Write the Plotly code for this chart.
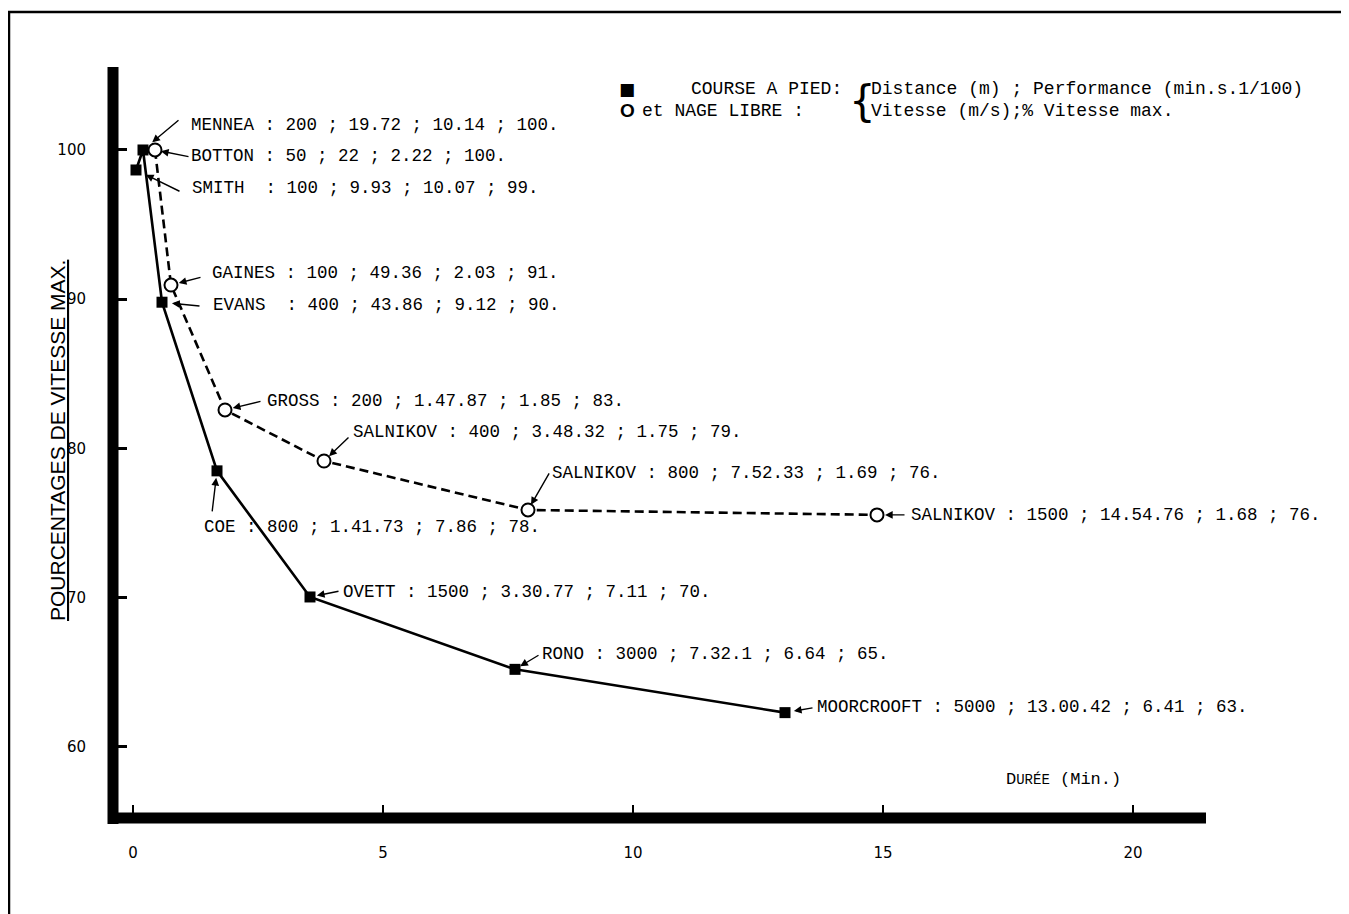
import plotly.graph_objects as go

# ---------------- data ----------------
# Course a pied (running)
run_names = ["SMITH ", "MENNEA", "EVANS ", "COE", "OVETT", "RONO", "MOORCROOFT"]
run_dist = ["100", "200", "400", "800", "1500", "3000", "5000"]
run_perf = ["9.93", "19.72", "43.86", "1.41.73", "3.30.77", "7.32.1", "13.00.42"]
run_speed = ["10.07", "10.14", "9.12", "7.86", "7.11", "6.64", "6.41"]
run_pct_label = ["99", "100", "90", "78", "70", "65", "63"]
run_time = [0.06, 0.20, 0.58, 1.68, 3.54, 7.64, 13.04]      # minutes (as plotted)
run_pct = [98.66, 100.0, 89.8, 78.5, 70.05, 65.2, 62.3]      # % vitesse max (as plotted)

# Nage libre (swimming)
swim_names = ["BOTTON", "GAINES", "GROSS", "SALNIKOV", "SALNIKOV", "SALNIKOV"]
swim_dist = ["50", "100", "200", "400", "800", "1500"]
swim_perf = ["22", "49.36", "1.47.87", "3.48.32", "7.52.33", "14.54.76"]
swim_speed = ["2.22", "2.03", "1.85", "1.75", "1.69", "1.68"]
swim_pct_label = ["100", "91", "83", "79", "76", "76"]
swim_time = [0.44, 0.76, 1.84, 3.82, 7.90, 14.88]
swim_pct = [100.0, 90.95, 82.58, 79.16, 75.88, 75.55]

x_ticks = [0, 5, 10, 15, 20]
y_ticks = [60, 70, 80, 90, 100]

# ---------------- styling / layout ----------------
OFF = 8                      # page body margin
W, H = 1349 - OFF, 914 - OFF
L, R, T, B = 113, 1206, 67, 818   # plot area in window pixels
MONO = "Liberation Mono, Courier New, monospace"
SANS = "Liberation Sans, Arial, sans-serif"

# label placement (pixel offsets from the point): text (dx, dy), arrow tail (ax, ay), standoff
run_style = [
    dict(tx=55, ty=18, ax=45, ay=22, so=11),
    dict(tx=47, ty=-25, ax=37, ay=-31, so=12),
    dict(tx=50, ty=3, ax=39, ay=4, so=10),
    dict(tx=-14, ty=56, ax=-5, ay=42, so=7),
    dict(tx=32, ty=-5, ax=30, ay=-6, so=7),
    dict(tx=26, ty=-15, ax=25, ay=-15, so=6),
    dict(tx=31, ty=-6, ax=29, ay=-5, so=9),
]
swim_style = [
    dict(tx=35, ty=6, ax=35, ay=7, so=6),
    dict(tx=40, ty=-12, ax=31, ay=-8, so=8),
    dict(tx=41, ty=-9, ax=37, ay=-9, so=8),
    dict(tx=28, ty=-29, ax=26, ay=-25, so=7),
    dict(tx=23, ty=-37, ax=22, ay=-38, so=6),
    dict(tx=33, ty=0, ax=29, ay=0, so=8),
]


def px_x(p):
    return (p - L) / (R - L)


def px_y(p):
    return (B - p) / (B - T)


fig = go.Figure()

fig.add_trace(go.Scatter(
    x=run_time, y=run_pct, mode="lines+markers", name="COURSE A PIED",
    line=dict(color="black", width=2.6),
    marker=dict(symbol="square", size=11, color="black"),
    showlegend=False, hoverinfo="skip"))

fig.add_trace(go.Scatter(
    x=swim_time, y=swim_pct, mode="lines+markers", name="NAGE LIBRE",
    line=dict(color="black", width=2.6, dash="9px,5px"),
    marker=dict(symbol="circle", size=13, color="white", line=dict(color="black", width=2)),
    showlegend=False, hoverinfo="skip"))

annotations = []


def add_labels(times, pcts, names, dists, perfs, speeds, pctl, styles):
    for i in range(len(times)):
        s = styles[i]
        label = f"{names[i]} : {dists[i]} ; {perfs[i]} ; {speeds[i]} ; {pctl[i]}."
        annotations.append(dict(
            x=times[i], y=pcts[i], xref="x", yref="y", text=label.replace(" ", "\u00a0"),
            showarrow=False, xanchor="left", yanchor="middle",
            xshift=s["tx"], yshift=-s["ty"], borderpad=0,
            font=dict(family=MONO, size=17.5, color="black")))
        annotations.append(dict(
            x=times[i], y=pcts[i], xref="x", yref="y", text="",
            showarrow=True, ax=s["ax"], ay=s["ay"], standoff=s["so"],
            arrowhead=2, arrowsize=1.1, arrowwidth=1.4, arrowcolor="black",
            font=dict(size=1)))


add_labels(run_time, run_pct, run_names, run_dist, run_perf, run_speed, run_pct_label, run_style)
add_labels(swim_time, swim_pct, swim_names, swim_dist, swim_perf, swim_speed, swim_pct_label, swim_style)

# legend block (top right)
leg_font = dict(family=MONO, size=18, color="black")
annotations += [
    dict(x=px_x(627), y=px_y(89), xref="paper", yref="paper", text="■", showarrow=False,
         font=dict(family="DejaVu Sans", size=17, color="black"), xanchor="center", yanchor="middle"),
    dict(x=px_x(690), y=px_y(89), xref="paper", yref="paper", text="COURSE\u00a0A\u00a0PIED:",
         showarrow=False, font=leg_font, xanchor="left", yanchor="middle", borderpad=0),
    dict(x=px_x(627), y=px_y(111), xref="paper", yref="paper", text="<b>O</b>", showarrow=False,
         font=dict(family=SANS, size=19, color="black"), xanchor="center", yanchor="middle"),
    dict(x=px_x(641), y=px_y(111), xref="paper", yref="paper", text="et\u00a0NAGE\u00a0LIBRE\u00a0:",
         showarrow=False, font=leg_font, xanchor="left", yanchor="middle", borderpad=0),
    dict(x=px_x(862), y=px_y(101), xref="paper", yref="paper", text="{", showarrow=False,
         font=dict(family="DejaVu Sans", size=42, color="black"), xanchor="center", yanchor="middle"),
    dict(x=px_x(870), y=px_y(89), xref="paper", yref="paper",
         text="Distance\u00a0(m)\u00a0;\u00a0Performance\u00a0(min.s.1/100)",
         showarrow=False, font=leg_font, xanchor="left", yanchor="middle", borderpad=0),
    dict(x=px_x(870), y=px_y(111), xref="paper", yref="paper",
         text="Vitesse\u00a0(m/s);%\u00a0Vitesse\u00a0max.",
         showarrow=False, font=leg_font, xanchor="left", yanchor="middle", borderpad=0),
    # x-axis title
    dict(x=px_x(1063), y=px_y(779), xref="paper", yref="paper",
         text="D<span style='font-size:14px'>URÉE</span>\u00a0(Min.)",
         showarrow=False, font=dict(family=MONO, size=17, color="black"),
         xanchor="center", yanchor="middle"),
    # y-axis title
    dict(x=px_x(57), y=px_y(441), xref="paper", yref="paper",
         text="<u>POURCENTAGES\u00a0DE\u00a0VITESSE\u00a0MAX.</u>", textangle=-90,
         showarrow=False, font=dict(family=SANS, size=21, color="black"),
         xanchor="center", yanchor="middle"),
]

shapes = [
    # outer frame (top and left edges)
    dict(type="line", xref="paper", yref="paper", x0=px_x(8), x1=px_x(1349), y0=px_y(12), y1=px_y(12),
         line=dict(color="black", width=2.5)),
    dict(type="line", xref="paper", yref="paper", x0=px_x(9), x1=px_x(9), y0=px_y(11), y1=px_y(914),
         line=dict(color="black", width=2.5)),
    # heavy axis lines
    dict(type="line", xref="paper", yref="paper", x0=0, x1=0, y0=px_y(824), y1=1,
         line=dict(color="black", width=11)),
    dict(type="line", xref="paper", yref="paper", x0=px_x(108), x1=1, y0=0, y1=0,
         line=dict(color="black", width=11)),
]

fig.update_layout(
    width=W, height=H,
    margin=dict(l=L - OFF, r=1349 - R, t=T - OFF, b=914 - B, pad=0),
    paper_bgcolor="white", plot_bgcolor="white",
    showlegend=False,
    xaxis=dict(range=[-0.4, 21.46], tickvals=x_ticks, ticks="inside", ticklen=13, tickwidth=2,
               tickcolor="black", showgrid=False, zeroline=False, showline=False,
               ticklabelstandoff=24,
               tickfont=dict(family="DejaVu Sans", size=15, color="black")),
    yaxis=dict(range=[55.24, 105.56], tickvals=y_ticks, ticks="inside", ticklen=14, tickwidth=2.5,
               tickcolor="black", showgrid=False, zeroline=False, showline=False,
               ticklabelstandoff=26,
               tickfont=dict(family="DejaVu Sans", size=15, color="black")),
    annotations=annotations,
    shapes=shapes,
)

fig.write_html("out.html")
